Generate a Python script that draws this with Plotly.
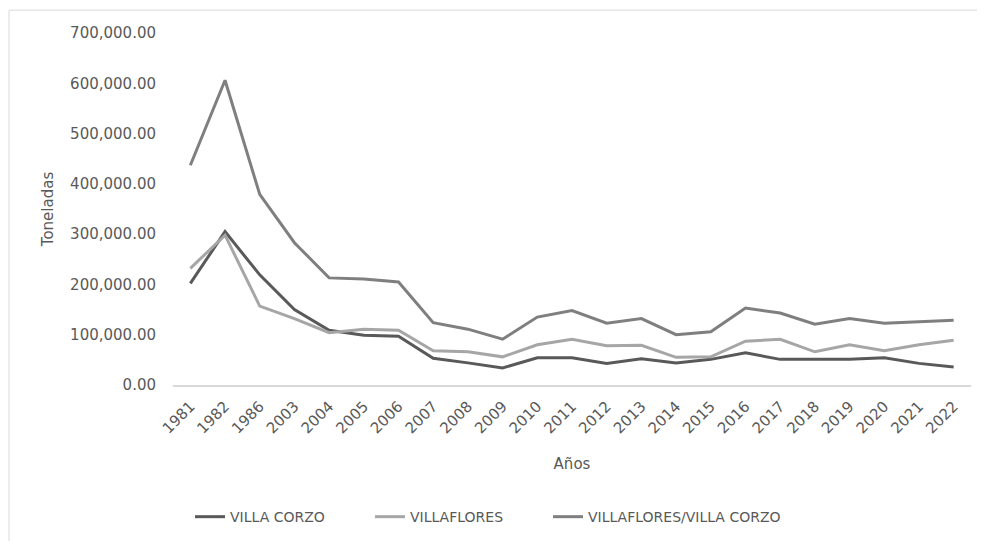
import plotly.graph_objects as go

years = ["1981", "1982", "1986", "2003", "2004", "2005", "2006", "2007", "2008", "2009",
         "2010", "2011", "2012", "2013", "2014", "2015", "2016", "2017", "2018", "2019",
         "2020", "2021", "2022"]

villa_corzo = [202000, 305000, 219000, 150000, 109000, 99000, 97000, 53000, 44000, 34000,
               54000, 54000, 43000, 52000, 44000, 51000, 64000, 51000, 51000, 51000,
               54000, 43000, 36000]

villaflores = [232000, 298000, 157000, 132000, 104000, 111000, 109000, 68000, 66000, 56000,
               80000, 91000, 78000, 79000, 55000, 56000, 87000, 91000, 66000, 80000,
               68000, 80000, 89000]

villaflores_villa_corzo = [437000, 606000, 379000, 283000, 213000, 211000, 205000, 124000, 111000, 91000,
                           135000, 148000, 123000, 132000, 100000, 106000, 153000, 143000, 121000, 132000,
                           123000, 126000, 129000]

series_names = ["VILLA CORZO", "VILLAFLORES", "VILLAFLORES/VILLA CORZO"]
series_values = [villa_corzo, villaflores, villaflores_villa_corzo]
series_colors = ["#595959", "#A6A6A6", "#7F7F7F"]
legend_ids = ["legend", "legend2", "legend3"]
legend_x = [0.1848, 0.3675, 0.5482]

FONT = "DejaVu Sans"
TXT = "#595959"

fig = go.Figure()
for name, vals, col, lid in zip(series_names, series_values, series_colors, legend_ids):
    fig.add_trace(go.Scatter(x=years, y=vals, name=name, mode="lines",
                             line=dict(color=col, width=3), legend=lid))

legend_common = dict(orientation="h", xref="container", yref="container",
                     xanchor="left", y=0.059, yanchor="middle",
                     font=dict(family=FONT, size=14, color=TXT),
                     itemwidth=30, bgcolor="rgba(0,0,0,0)")

layout_legends = {}
for lid, lx in zip(legend_ids, legend_x):
    layout_legends[lid] = dict(legend_common, x=lx)

fig.update_layout(
    width=985, height=541,
    margin=dict(l=165, r=22, t=25, b=164),
    paper_bgcolor="white", plot_bgcolor="white",
    font=dict(family=FONT, color=TXT, size=15),
    showlegend=True,
    xaxis=dict(type="category", range=[-0.5, 22.5], showgrid=False,
               showline=True, linecolor="#D9D9D9", linewidth=1.5,
               tickangle=-45, ticks="outside", ticklen=5, tickcolor="rgba(0,0,0,0)",
               tickfont=dict(family=FONT, size=15, color=TXT),
               title=dict(text="Años", font=dict(family=FONT, size=15, color=TXT), standoff=22)),
    yaxis=dict(range=[0, 700000], tickvals=[0, 100000, 200000, 300000, 400000, 500000, 600000, 700000],
               tickformat=",.2f", showgrid=False, zeroline=False, showline=False,
               ticks="outside", ticklen=13, tickcolor="rgba(0,0,0,0)",
               tickfont=dict(family=FONT, size=15, color=TXT),
               title=dict(text="Toneladas", font=dict(family=FONT, size=15, color=TXT), standoff=12)),
    **layout_legends,
)

fig.add_shape(type="rect", xref="paper", yref="paper",
              x0=-0.2055, x1=1.2, y0=-0.6, y1=1.065,
              line=dict(color="#D9D9D9", width=1), fillcolor="rgba(0,0,0,0)", layer="below")

fig.write_html("out.html")
